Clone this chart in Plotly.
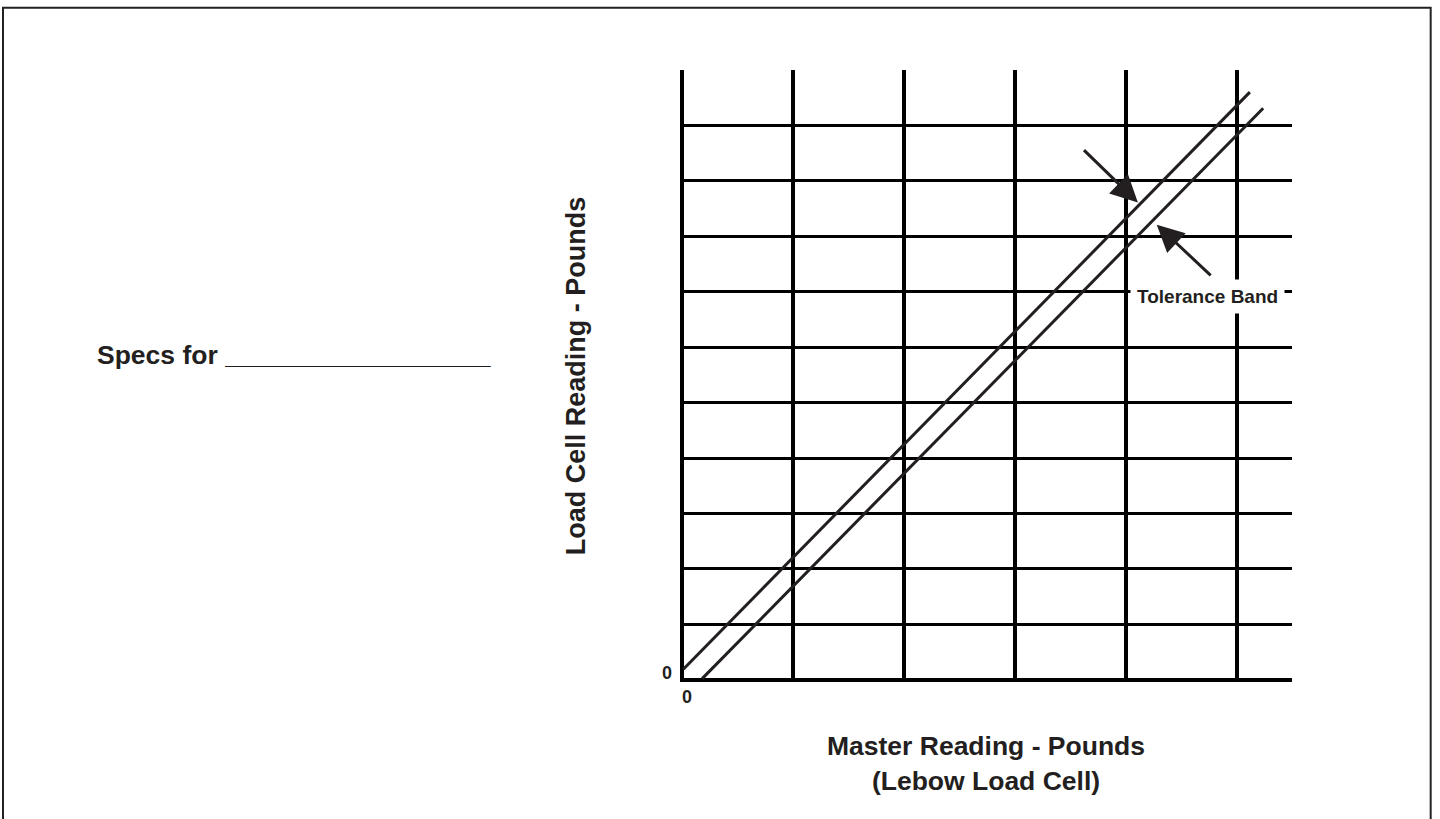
import plotly.graph_objects as go

# ---- data -------------------------------------------------------------
x_grid = [0, 1, 2, 3, 4, 5]                 # vertical grid lines (master reading)
y_grid = [0, 1, 2, 3, 4, 5, 6, 7, 8, 9, 10]  # horizontal grid lines (load cell reading)
x_range = [-0.02, 5.5]
y_range = [-0.04, 11]

upper_x = [0.01, 5.12]   # upper tolerance limit
upper_y = [0.19, 10.60]
lower_x = [0.18, 5.24]   # lower tolerance limit
lower_y = [0.02, 10.31]

arrow1_tip = (4.11, 8.61)
arrow1_tail = (3.61, 9.58)
arrow2_tip = (4.28, 8.21)
arrow2_tail = (4.78, 7.27)
band_label_pos = (4.74, 6.91)

FONT = "Liberation Sans, Arial, Helvetica, sans-serif"
INK = "#231f20"

fig = go.Figure()
fig.add_trace(go.Scatter(x=upper_x, y=upper_y, mode="lines",
                         line=dict(color=INK, width=3), hoverinfo="skip", showlegend=False))
fig.add_trace(go.Scatter(x=lower_x, y=lower_y, mode="lines",
                         line=dict(color=INK, width=3), hoverinfo="skip", showlegend=False))

annotations = []
for tip, tail in [(arrow1_tip, arrow1_tail), (arrow2_tip, arrow2_tail)]:
    annotations.append(dict(x=tip[0], y=tip[1], ax=tail[0], ay=tail[1],
                            xref="x", yref="y", axref="x", ayref="y",
                            text="", showarrow=True, arrowhead=2, arrowsize=1.8,
                            arrowwidth=3, arrowcolor=INK, standoff=0))
annotations.append(dict(x=band_label_pos[0], y=band_label_pos[1], xref="x", yref="y",
                        text="<b>Tolerance Band</b>", showarrow=False,
                        font=dict(family=FONT, size=19, color=INK),
                        bgcolor="white", borderpad=6))
annotations.append(dict(x=0, y=0, xref="x", yref="y", text="<b>0</b>", showarrow=False,
                        xanchor="right", yanchor="middle", xshift=-8, yshift=7,
                        font=dict(family=FONT, size=18, color=INK)))
annotations.append(dict(x=0, y=0, xref="x", yref="y", text="<b>0</b>", showarrow=False,
                        xanchor="center", yanchor="top", xshift=5, yshift=-5,
                        font=dict(family=FONT, size=18, color=INK)))
annotations.append(dict(x=-0.9559, y=0.5343, xref="paper", yref="paper",
                        text="<b>Specs for __________________</b>", showarrow=False,
                        xanchor="left", yanchor="middle",
                        font=dict(family=FONT, size=26.5, color=INK)))

fig.update_layout(
    width=1440, height=819,
    margin=dict(l=680, r=148, t=70, b=137),
    paper_bgcolor="white", plot_bgcolor="white",
    annotations=annotations,
    shapes=[dict(type="rect", xref="paper", yref="paper",
                 x0=-1.1062, x1=1.2266, y0=-0.3, y1=1.1018,
                 line=dict(color="#222222", width=2), layer="below")],
    xaxis=dict(range=x_range, tickvals=x_grid, showticklabels=False, ticks="",
               showgrid=True, gridcolor="black", gridwidth=3.5,
               zeroline=True, zerolinecolor="black", zerolinewidth=3.5,
               showline=False, fixedrange=True,
               title=dict(text="<b>Master Reading - Pounds<br>(Lebow Load Cell)</b>",
                          font=dict(family=FONT, size=26.5, color=INK), standoff=54)),
    yaxis=dict(range=y_range, tickvals=y_grid, showticklabels=False, ticks="",
               showgrid=True, gridcolor="black", gridwidth=3,
               zeroline=True, zerolinecolor="black", zerolinewidth=3.5,
               showline=False, fixedrange=True,
               title=dict(text="<b>Load Cell Reading - Pounds</b>",
                          font=dict(family=FONT, size=27, color=INK), standoff=85)),
)

fig.write_html("out.html", config={"displayModeBar": False},
               post_script="document.body.style.margin='0';document.body.style.overflow='hidden';")
